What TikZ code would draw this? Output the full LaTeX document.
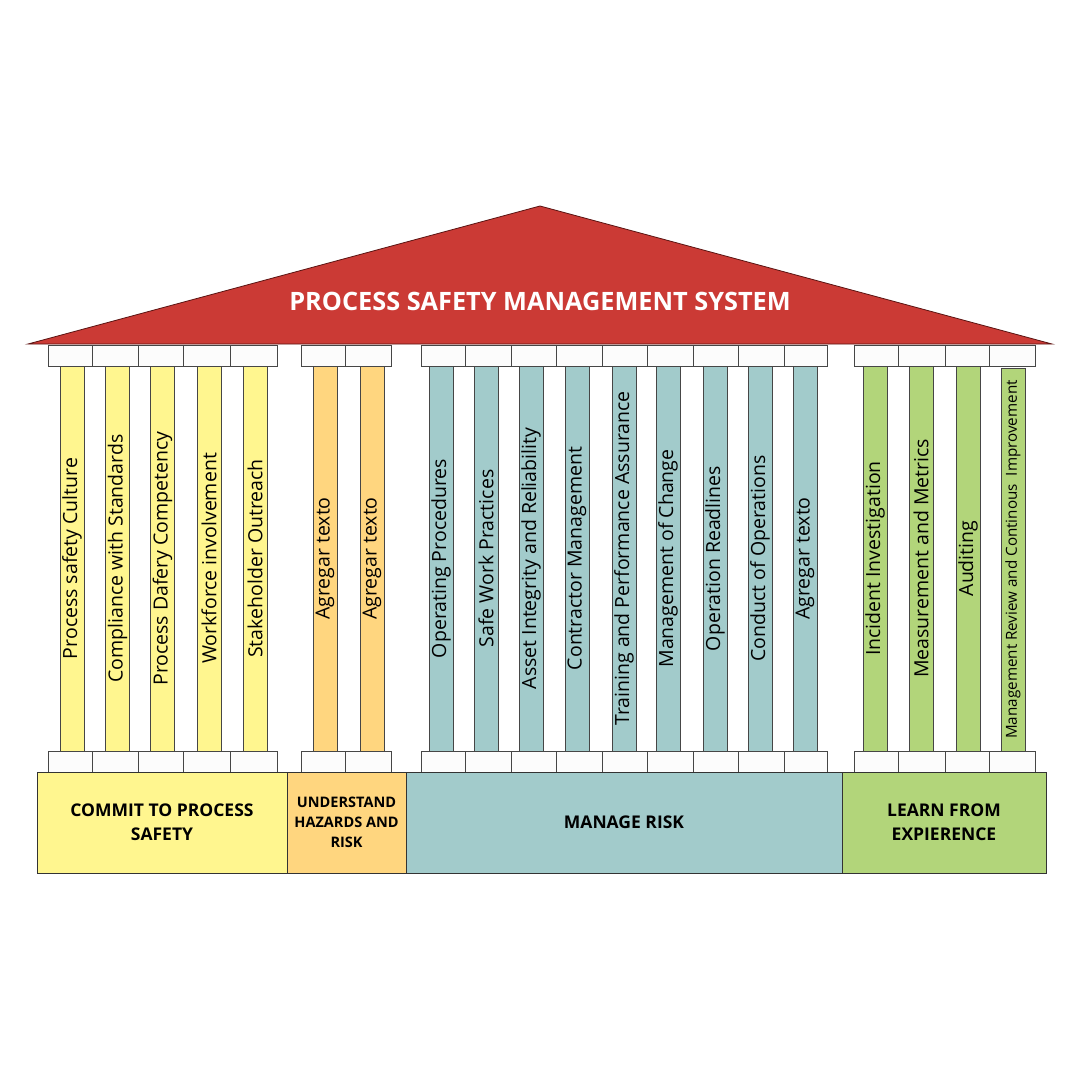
\documentclass[tikz,border=0pt]{standalone}
\usepackage{fontspec}
\setmainfont{Open Sans}
\definecolor{roofred}{RGB}{203,58,53}
\definecolor{roofedge}{RGB}{90,20,18}
\definecolor{pyellow}{RGB}{255,246,143}
\definecolor{porange}{RGB}{255,214,127}
\definecolor{pteal}{RGB}{162,203,203}
\definecolor{pgreen}{RGB}{178,213,122}
\definecolor{capfill}{RGB}{252,252,252}
\definecolor{edgegray}{RGB}{70,70,70}
\begin{document}
\begin{tikzpicture}[x=1pt,y=-1pt,
  capbox/.style={draw=edgegray, line width=0.9pt, fill=capfill, inner sep=0pt, minimum height=21pt},
  pillar/.style={draw=edgegray, line width=0.9pt, rotate=90, inner sep=0pt,
                 minimum width=385pt, minimum height=24pt, font=\fontsize{19.5}{21}\selectfont},
  basebox/.style={draw=black!80, line width=0.9pt, inner sep=0pt, minimum height=101pt,
                  align=center, font=\bfseries\fontsize{17.5}{24.3}\selectfont}]
\useasboundingbox (0,0) rectangle (1080,1080);
\fill[white] (0,0) rectangle (1080,1080);

% roof
\path[fill=roofred, draw=roofedge, line width=0.8pt] (28,344) -- (540,206) -- (1052,344) -- cycle;
\node[text=white, font=\bfseries\fontsize{25.3}{28}\selectfont] (title) at (540,301) {PROCESS SAFETY MANAGEMENT SYSTEM};

% capitals and plinths
\foreach \l/\r [count=\i] in {48/92,92/138,138/183,183/230,230/277,
                              301/345,345/391,
                              421/465,465/511,511/556,556/602,602/647,647/693,693/738,738/784,784/827,
                              854/898,898/945,945/989,989/1035}{
  \node[capbox, minimum width={(\r-\l)*1pt}] (top\i) at ({(\l+\r)/2},355.5) {};
  \node[capbox, minimum width={(\r-\l)*1pt}] (bot\i) at ({(\l+\r)/2},761.5) {};
}

% columns: commit to process safety
\node[pillar, fill=pyellow] (c1) at (72,558.5) {Process safety Culture};
\node[pillar, fill=pyellow] (c2) at (117.5,558.5) {Compliance with Standards};
\node[pillar, fill=pyellow] (c3) at (162.5,558.5) {Process Dafery Competency};
\node[pillar, fill=pyellow] (c4) at (209,558.5) {Workforce involvement};
\node[pillar, fill=pyellow] (c5) at (255,558.5) {Stakeholder Outreach};
% columns: understand hazards and risk
\node[pillar, fill=porange] (h1) at (325,558.5) {Agregar texto};
\node[pillar, fill=porange] (h2) at (372,558.5) {Agregar texto};
% columns: manage risk
\node[pillar, fill=pteal] (m1) at (441,558.5) {Operating Procedures};
\node[pillar, fill=pteal] (m2) at (486,558.5) {Safe Work Practices};
\node[pillar, fill=pteal] (m3) at (531,558.5) {Asset Integrity and Reliability};
\node[pillar, fill=pteal] (m4) at (577,558.5) {Contractor Management};
\node[pillar, fill=pteal] (m5) at (624,558.5) {Training and Performance Assurance};
\node[pillar, fill=pteal] (m6) at (668,558.5) {Management of Change};
\node[pillar, fill=pteal] (m7) at (715,558.5) {Operation Readlines};
\node[pillar, fill=pteal] (m8) at (760,558.5) {Conduct of Operations};
\node[pillar, fill=pteal] (m9) at (805,558.5) {Agregar texto};
% columns: learn from experience
\node[pillar, fill=pgreen] (l1) at (875,558.5) {Incident Investigation};
\node[pillar, fill=pgreen] (l2) at (921,558.5) {Measurement and Metrics};
\node[pillar, fill=pgreen] (l3) at (968,558.5) {Auditing};
\node[pillar, fill=pgreen, minimum width=383pt, font=\fontsize{15.2}{17}\selectfont] (l4) at (1013,559.5) {Management Review and Continous\ \ Improvement};

% foundation blocks
\node[basebox, fill=pyellow, minimum width=250pt] (commit) at (162,822.5) {COMMIT TO PROCESS\\SAFETY};
\node[basebox, fill=porange, minimum width=119pt, font=\bfseries\fontsize{14.5}{20.3}\selectfont] (understand) at (346.5,822.5) {UNDERSTAND\\HAZARDS AND\\RISK};
\node[basebox, fill=pteal, minimum width=436pt] (manage) at (624,822.5) {MANAGE RISK};
\node[basebox, fill=pgreen, minimum width=204pt] (learn) at (944,822.5) {LEARN FROM\\EXPIERENCE};
\end{tikzpicture}
\end{document}
